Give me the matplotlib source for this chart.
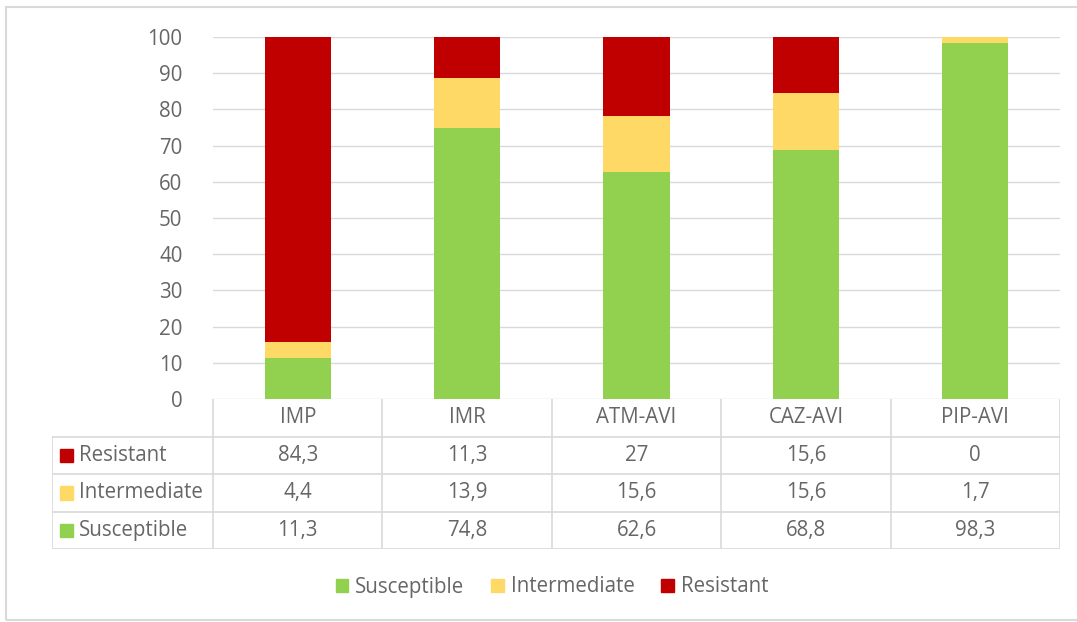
import matplotlib.pyplot as plt
import matplotlib.patches as patches
from matplotlib.lines import Line2D

# data
drugs = ['IMP', 'IMR', 'ATM-AVI', 'CAZ-AVI', 'PIP-AVI']
susceptible = [11.3, 74.8, 62.6, 68.8, 98.3]
intermediate = [4.4, 13.9, 15.6, 15.6, 1.7]
resistant = [84.3, 11.3, 27, 15.6, 0]
resistant_labels = ['84,3', '11,3', '27', '15,6', '0']
intermediate_labels = ['4,4', '13,9', '15,6', '15,6', '1,7']
susceptible_labels = ['11,3', '74,8', '62,6', '68,8', '98,3']

c_sus = '#92D050'
c_int = '#FFD966'
c_res = '#C00000'
grid_c = '#D9D9D9'
txt_c = '#666666'

plt.rcParams['font.family'] = ['Open Sans', 'DejaVu Sans']
fs = 14.8

W, H = 1077, 622
fig = plt.figure(figsize=(W / 100, H / 100), dpi=100)

# outer chart border (right edge is cut off in the original)
fig.add_artist(patches.Rectangle((6 / W, 2 / H), (W + 10) / W, (H - 9) / H,
                                 transform=fig.transFigure, fill=False,
                                 edgecolor=grid_c, linewidth=1.5))

ax = fig.add_axes([213 / W, (H - 399) / H, 847 / W, 362 / H])
x = range(len(drugs))
bw = 0.39
ax.bar(x, susceptible, bw, color=c_sus, zorder=3)
ax.bar(x, intermediate, bw, bottom=susceptible, color=c_int, zorder=3)
bot = [s + i for s, i in zip(susceptible, intermediate)]
ax.bar(x, resistant, bw, bottom=bot, color=c_res, zorder=3)
ax.set_xlim(-0.5, len(drugs) - 0.5)
ax.set_ylim(0, 100)
ax.set_yticks(range(0, 101, 10))
ax.yaxis.grid(True, color=grid_c, linewidth=1)
ax.set_xticks([])
for s in ax.spines.values():
    s.set_visible(False)
ax.tick_params(axis='y', length=0, labelsize=fs, labelcolor=txt_c, pad=22)

# data table below
unit = 847 / len(drugs)
lab_w = (213 - 52) / unit
tax = fig.add_axes([52 / W, (H - 549) / H, (1060 - 52) / W, 150 / H])
tax.set_xlim(-0.5 - lab_w, len(drugs) - 0.5)
tax.set_ylim(0, 4)
tax.axis('off')
left = -0.5 - lab_w
right = len(drugs) - 0.5
lw = 1.2
for yy in [0, 1, 2, 3]:
    tax.add_line(Line2D([left, right], [yy, yy], color=grid_c, lw=lw))
tax.add_line(Line2D([left, left], [0, 3], color=grid_c, lw=lw))
for i in range(len(drugs) + 1):
    tax.add_line(Line2D([i - 0.5, i - 0.5], [0, 4], color=grid_c, lw=lw))

for i, d in enumerate(drugs):
    tax.text(i, 3.5, d, ha='center', va='center', fontsize=fs, color=txt_c)
rows = [('Resistant', c_res, resistant_labels),
        ('Intermediate', c_int, intermediate_labels),
        ('Susceptible', c_sus, susceptible_labels)]
for r, (name, col, labs) in enumerate(rows):
    yc = 2.5 - r
    tax.add_patch(patches.Rectangle((left + 0.045, yc - 0.18), 0.08, 0.36,
                                    color=col, clip_on=False))
    tax.text(left + 0.16, yc, name, ha='left', va='center', fontsize=fs, color=txt_c)
    for i, v in enumerate(labs):
        tax.text(i, yc, v, ha='center', va='center', fontsize=fs, color=txt_c)

handles = [patches.Patch(color=c_sus, label='Susceptible'),
           patches.Patch(color=c_int, label='Intermediate'),
           patches.Patch(color=c_res, label='Resistant')]
leg = fig.legend(handles=handles, loc='center', bbox_to_anchor=(552 / W, (H - 587) / H),
                 ncol=3, frameon=False, fontsize=fs, handlelength=0.6, handleheight=0.6,
                 handletextpad=0.35, columnspacing=1.3)
for t in leg.get_texts():
    t.set_color(txt_c)

fig.savefig('out.png', dpi=100)
